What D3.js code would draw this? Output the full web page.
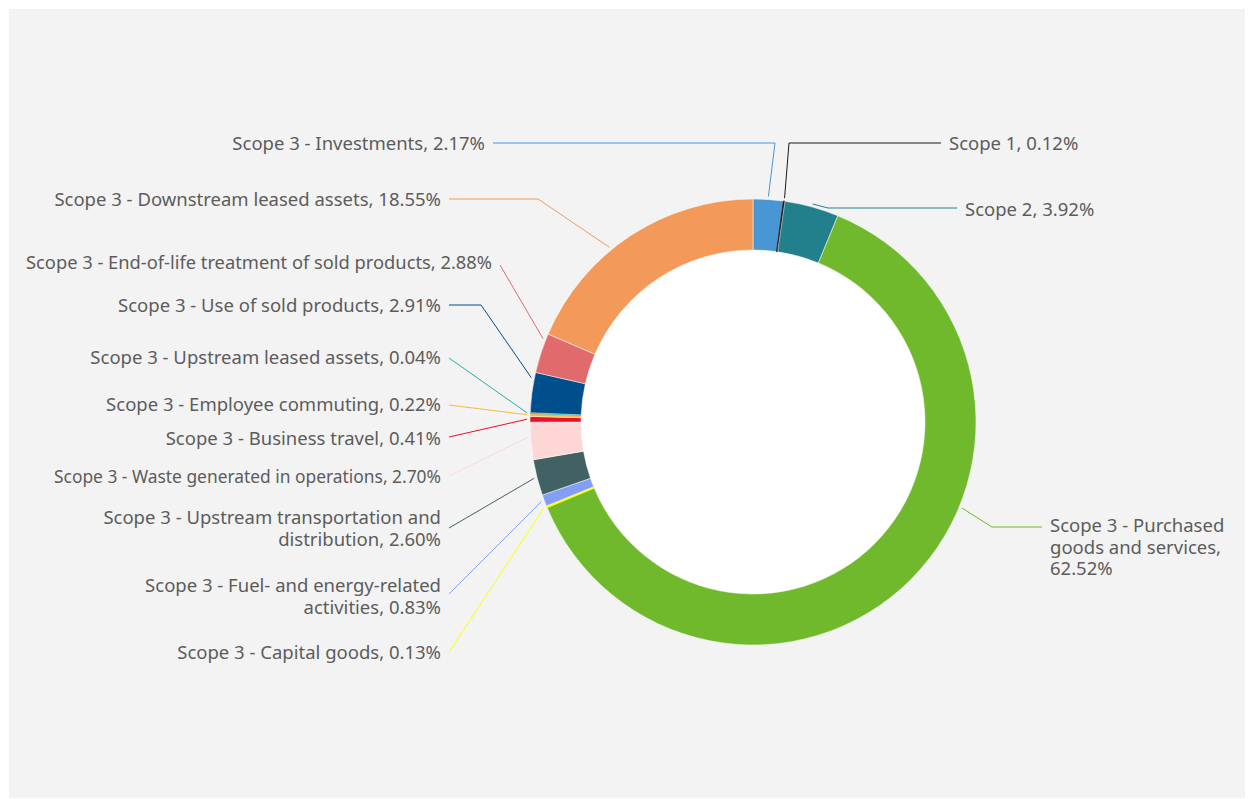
<!DOCTYPE html>
<html>
<head>
<meta charset="utf-8">
<script src="https://cdn.jsdelivr.net/npm/d3@7"></script>
<style>
  html, body { margin: 0; padding: 0; background: #fff; }
  #chart { width: 1255px; height: 799px; }
</style>
</head>
<body>
<div id="chart"></div>
<script>
// emissions breakdown, clockwise from 12 o'clock
const categories = [
    "Scope 3 - Investments",
    "Scope 1",
    "Scope 2",
    "Scope 3 - Purchased goods and services",
    "Scope 3 - Capital goods",
    "Scope 3 - Fuel- and energy-related activities",
    "Scope 3 - Upstream transportation and distribution",
    "Scope 3 - Waste generated in operations",
    "Scope 3 - Business travel",
    "Scope 3 - Employee commuting",
    "Scope 3 - Upstream leased assets",
    "Scope 3 - Use of sold products",
    "Scope 3 - End-of-life treatment of sold products",
    "Scope 3 - Downstream leased assets"
];
const shares = [2.17, 0.12, 3.92, 62.52, 0.13, 0.83, 2.60, 2.70, 0.41, 0.22, 0.04, 2.91, 2.88, 18.55];
const labelText = [
    ["Scope 3 - Investments, 2.17%"],
    ["Scope 1, 0.12%"],
    ["Scope 2, 3.92%"],
    ["Scope 3 - Purchased", "goods and services,", "62.52%"],
    ["Scope 3 - Capital goods, 0.13%"],
    ["Scope 3 - Fuel- and energy-related", "activities, 0.83%"],
    ["Scope 3 - Upstream transportation and", "distribution, 2.60%"],
    ["Scope 3 - Waste generated in operations, 2.70%"],
    ["Scope 3 - Business travel, 0.41%"],
    ["Scope 3 - Employee commuting, 0.22%"],
    ["Scope 3 - Upstream leased assets, 0.04%"],
    ["Scope 3 - Use of sold products, 2.91%"],
    ["Scope 3 - End-of-life treatment of sold products, 2.88%"],
    ["Scope 3 - Downstream leased assets, 18.55%"]
];
const colors = ["#4996d4", "#1a1a1a", "#22808c", "#70b92c", "#ffff00", "#829ef5", "#426164",
                "#ffd6d6", "#e8102a", "#f8b744", "#26aea0", "#004f8c", "#e06a6c", "#f39a5a"];

// label placement: side, text edge x, first-line y, leader y, horizontal run, anchor fraction in slice
// fit = squeeze the (oddly narrow) label to this width
const labelLayout = [
    { side: "L", x: 485, y: 142, ly: 143, run: 282, f: 0.5 },
    { side: "R", x: 949, y: 142, ly: 143, run: 152, f: 0.5 },
    { side: "R", x: 965, y: 208, ly: 208, run: 129, f: 0.5 },
    { side: "R", x: 1050, y: 524, ly: 527, run: 50, f: 0.4 },
    { side: "L", x: 441, y: 651, ly: 652, run: 0, f: 0.5 },
    { side: "L", x: 441, y: 584, ly: 594, run: 0, f: 0.5 },
    { side: "L", x: 441, y: 516, ly: 528, run: 0, f: 0.5 },
    { side: "L", x: 441, y: 475, ly: 476, run: 0, f: 0.6, fit: 387 },
    { side: "L", x: 441, y: 437, ly: 437, run: 0, f: 0.5 },
    { side: "L", x: 441, y: 403, ly: 405, run: 0, f: 0.5 },
    { side: "L", x: 441, y: 356, ly: 358, run: 0, f: 0.5 },
    { side: "L", x: 441, y: 304, ly: 305, run: 32, f: 0.85 },
    { side: "L", x: 492, y: 261, ly: 265, run: 0, f: 0.85, fit: 466 },
    { side: "L", x: 441, y: 198, ly: 199, run: 89, f: 0.41 }
];

const W = 1255, H = 799;
const cx = 753, cy = 422;
const outerR = 223, innerR = 172;

const svg = d3.select("#chart").append("svg")
    .attr("width", W).attr("height", H);

svg.append("rect")
    .attr("x", 9).attr("y", 9)
    .attr("width", 1236).attr("height", 789)
    .attr("fill", "#f3f3f3");

const g = svg.append("g").attr("transform", `translate(${cx}, ${cy})`);

const pie = d3.pie().sort(null).value(d => d)(shares);
const arc = d3.arc().innerRadius(innerR).outerRadius(outerR);

g.append("circle").attr("r", innerR).attr("fill", "#fff");

g.selectAll(".slice").data(pie).enter().append("path")
    .attr("class", "slice")
    .attr("d", arc)
    .attr("fill", (d, i) => colors[i])
    .attr("stroke", (d, i) => (d.endAngle - d.startAngle) < 0.01 ? colors[i] : "#fff")
    .attr("stroke-width", (d, i) => (d.endAngle - d.startAngle) < 0.01 ? 0.8 : 0.5);

// leader lines + labels
const gap = 8;
pie.forEach((d, i) => {
    const L = labelLayout[i];
    const a = d.startAngle + (d.endAngle - d.startAngle) * L.f;
    const r = outerR + 3;
    const p0 = [cx + r * Math.sin(a), cy - r * Math.cos(a)];
    const dir = L.side === "L" ? 1 : -1;
    const p2 = [L.x + dir * gap, L.ly];
    const p1 = [p2[0] + dir * L.run, L.ly];
    svg.append("path")
        .attr("d", d3.line()([p0, p1, p2]))
        .attr("fill", "none")
        .attr("stroke", colors[i])
        .attr("stroke-width", 1);

    const t = svg.append("text")
        .attr("x", L.x).attr("y", L.y)
        .attr("text-anchor", L.side === "L" ? "end" : "start")
        .attr("dominant-baseline", "central")
        .style("font-family", "'Noto Sans', sans-serif")
        .style("font-size", "18.5px")
        .style("fill", "#5c5c5c");
    labelText[i].forEach((line, k) => {
        const ts = t.append("tspan").attr("x", L.x).attr("dy", k === 0 ? 0 : 21.5).text(line);
        if (L.fit) ts.attr("textLength", L.fit).attr("lengthAdjust", "spacingAndGlyphs");
    });
});
</script>
</body>
</html>
